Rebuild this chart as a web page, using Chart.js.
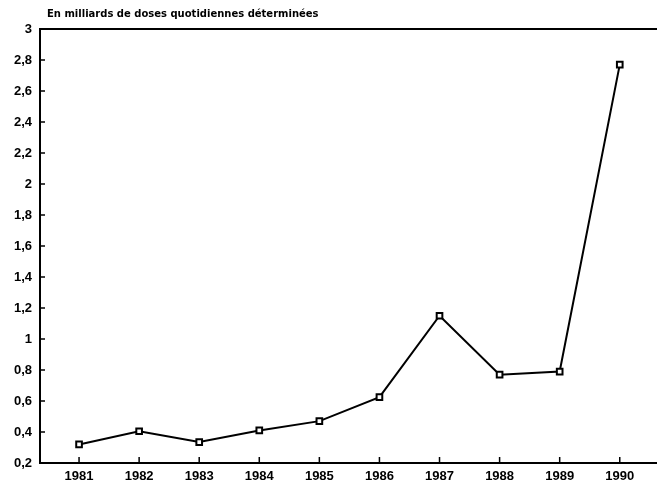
<!DOCTYPE html>
<html>
<head>
<meta charset="utf-8">
<script src="https://cdn.jsdelivr.net/npm/chart.js@4"></script>
<style>
  html, body { margin: 0; padding: 0; background: #fff; overflow: hidden; }
  canvas { display: block; }
</style>
</head>
<body>
<canvas id="chart" width="657" height="485"></canvas>
<script>
// Data
const years = [1981, 1982, 1983, 1984, 1985, 1986, 1987, 1988, 1989, 1990];
const doses = [0.32, 0.405, 0.335, 0.41, 0.47, 0.625, 1.15, 0.77, 0.79, 2.77];
const yTicks = [0.2, 0.4, 0.6, 0.8, 1, 1.2, 1.4, 1.6, 1.8, 2, 2.2, 2.4, 2.6, 2.8, 3];
const unitLabel = 'En milliards de doses quotidiennes déterminées';

const tickFont = { family: "'Liberation Sans', Arial, sans-serif", size: 13, weight: 'bold' };

// Comma decimals like the original
const fmt = (v) => String(Math.round(v * 10) / 10).replace('.', ',');

// Inward tick marks, top/bottom frame lines running to the page edge, unit label
const decorations = {
    id: 'decorations',
    afterDraw(chart) {
        const { ctx, chartArea, scales } = chart;
        ctx.save();
        ctx.strokeStyle = '#000';
        ctx.lineWidth = 1.5;
        ctx.beginPath();
        yTicks.forEach((v) => {
            const y = scales.y.getPixelForValue(v);
            ctx.moveTo(chartArea.left, y);
            ctx.lineTo(chartArea.left + 5, y);
        });
        years.forEach((yr) => {
            const x = scales.x.getPixelForValue(yr);
            ctx.moveTo(x, chartArea.bottom);
            ctx.lineTo(x, chartArea.bottom - 6);
        });
        ctx.stroke();

        ctx.lineWidth = 2;
        ctx.beginPath();
        ctx.moveTo(chartArea.left, chartArea.top);
        ctx.lineTo(chart.width, chartArea.top);
        ctx.moveTo(chartArea.right - 1, chartArea.bottom);
        ctx.lineTo(chart.width, chartArea.bottom);
        ctx.stroke();

        ctx.fillStyle = '#000';
        ctx.font = "bold 10px 'DejaVu Sans', sans-serif";
        ctx.textBaseline = 'alphabetic';
        ctx.fillText(unitLabel, 47, 17);
        ctx.restore();
    }
};

new Chart(document.getElementById('chart'), {
    type: 'line',
    data: {
        datasets: [{
            data: years.map((yr, i) => ({ x: yr, y: doses[i] })),
            borderColor: '#000',
            borderWidth: 2,
            pointStyle: 'rect',
            pointRadius: 4,
            pointBorderWidth: 2,
            pointBackgroundColor: '#fff',
            pointBorderColor: '#000',
            tension: 0,
        }],
    },
    options: {
        responsive: false,
        animation: false,
        layout: { padding: { top: 29, right: 0, left: 0, bottom: 0 } },
        plugins: {
            legend: { display: false },
            tooltip: { enabled: false },
            title: { display: false },
        },
        scales: {
            x: {
                type: 'linear',
                min: 1980.35,
                max: 1990.52,
                afterBuildTicks: (scale) => { scale.ticks = years.map((v) => ({ value: v })); },
                afterFit: (scale) => { scale.height = 22; },
                grid: { drawOnChartArea: false, drawTicks: true, tickLength: 6, tickColor: 'rgba(0,0,0,0)' },
                border: { display: true, color: '#000', width: 2 },
                ticks: {
                    color: '#000',
                    font: tickFont,
                    padding: 0,
                    callback: (v) => String(v),
                },
            },
            y: {
                min: 0.2,
                max: 3,
                afterBuildTicks: (scale) => { scale.ticks = yTicks.map((v) => ({ value: v })); },
                afterFit: (scale) => { scale.width = 40; },
                grid: { display: false, drawTicks: false },
                border: { display: true, color: '#000', width: 2 },
                ticks: {
                    color: '#000',
                    font: tickFont,
                    padding: 8,
                    callback: (v) => fmt(v),
                },
            },
        },
    },
    plugins: [decorations],
});
</script>
</body>
</html>
